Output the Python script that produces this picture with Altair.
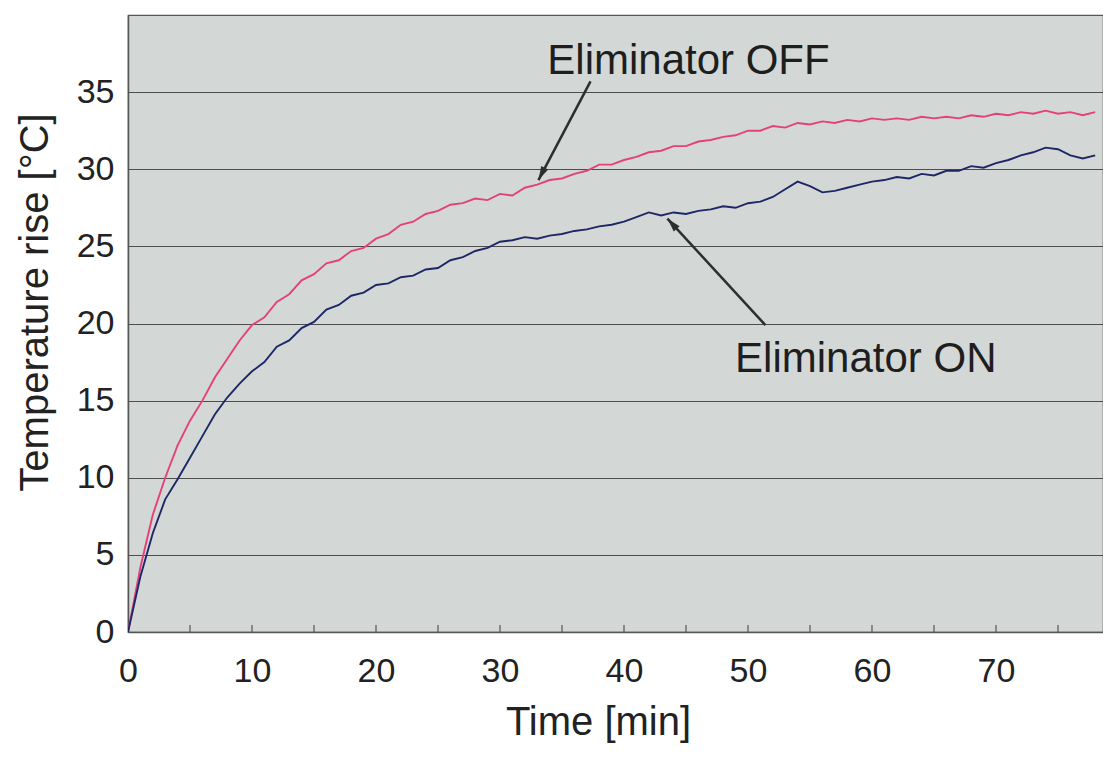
import altair as alt
import pandas as pd

# ---- data ----
time_min = list(range(0, 79))

temp_off = [0, 4.2, 7.6, 10.0, 12.1, 13.7, 15.0, 16.5, 17.7, 18.9,
            19.9, 20.4, 21.4, 21.9, 22.8, 23.2, 23.9, 24.1, 24.7, 24.9,
            25.5, 25.8, 26.4, 26.6, 27.1, 27.3, 27.7, 27.8, 28.1, 28.0,
            28.4, 28.3, 28.8, 29.0, 29.3, 29.4, 29.7, 29.9, 30.3, 30.3,
            30.6, 30.8, 31.1, 31.2, 31.5, 31.5, 31.8, 31.9, 32.1, 32.2,
            32.5, 32.5, 32.8, 32.7, 33.0, 32.9, 33.1, 33.0, 33.2, 33.1,
            33.3, 33.2, 33.3, 33.2, 33.4, 33.3, 33.4, 33.3, 33.5, 33.4,
            33.6, 33.5, 33.7, 33.6, 33.8, 33.6, 33.7, 33.5, 33.7]

temp_on = [0, 3.6, 6.4, 8.6, 9.9, 11.3, 12.7, 14.1, 15.2, 16.1,
           16.9, 17.5, 18.5, 18.9, 19.7, 20.1, 20.9, 21.2, 21.8, 22.0,
           22.5, 22.6, 23.0, 23.1, 23.5, 23.6, 24.1, 24.3, 24.7, 24.9,
           25.3, 25.4, 25.6, 25.5, 25.7, 25.8, 26.0, 26.1, 26.3, 26.4,
           26.6, 26.9, 27.2, 27.0, 27.2, 27.1, 27.3, 27.4, 27.6, 27.5,
           27.8, 27.9, 28.2, 28.7, 29.2, 28.9, 28.5, 28.6, 28.8, 29.0,
           29.2, 29.3, 29.5, 29.4, 29.7, 29.6, 29.9, 29.9, 30.2, 30.1,
           30.4, 30.6, 30.9, 31.1, 31.4, 31.3, 30.9, 30.7, 30.9]

x_tick_labels = [0, 10, 20, 30, 40, 50, 60, 70]
x_minor_ticks = [5, 10, 15, 20, 25, 30, 35, 40, 45, 50, 55, 60, 65, 70, 75]
y_ticks = [0, 5, 10, 15, 20, 25, 30, 35]

ann_labels = ["Eliminator OFF", "Eliminator ON"]
ann_text_x = [45.2, 59.5]
ann_text_y = [37.0, 17.7]
arrow_x1 = [37.3, 51.4]
arrow_y1 = [35.7, 19.9]
arrow_x2 = [33.1, 43.5]
arrow_y2 = [29.3, 26.8]
arrow_angle = [207, 318]

# ---- tables ----
df = pd.concat([
    pd.DataFrame({"t": time_min, "v": temp_off, "s": "Eliminator OFF"}),
    pd.DataFrame({"t": time_min, "v": temp_on, "s": "Eliminator ON"}),
])
ticks_df = pd.DataFrame({"t": x_minor_ticks, "y0": 0.0, "y1": 0.45})
ann_df = pd.DataFrame({"label": ann_labels, "tx": ann_text_x, "ty": ann_text_y,
                       "x1": arrow_x1, "y1": arrow_y1, "x2": arrow_x2,
                       "y2": arrow_y2, "ang": arrow_angle})

FONT = "Liberation Sans"
xscale = alt.Scale(domain=[0, 78.63], nice=False, zero=False)
yscale = alt.Scale(domain=[0, 40], nice=False)

xaxis = alt.Axis(values=x_tick_labels, title="Time [min]", grid=False, tickSize=0,
                 labelFlush=False, labelOverlap=False,
                 labelFontSize=34, labelPadding=22, labelColor="#222", labelFont=FONT,
                 titleFont=FONT, titleFontSize=40, titleFontWeight="normal", titleColor="#222",
                 titleX=470, titleY=90, titleBaseline="middle", titleAlign="center",
                 domainColor="#555", domainWidth=1.5)
yaxis = alt.Axis(values=y_ticks, title="Temperature rise [°C]", grid=True,
                 gridColor="#4d4d4d", gridWidth=1.2, tickSize=0,
                 labelFlush=False, labelOverlap=False,
                 labelFontSize=34, labelPadding=14, labelColor="#222", labelFont=FONT,
                 titleFont=FONT, titleFontSize=40, titleFontWeight="normal", titleColor="#222",
                 titleX=-93, titleY=287, titleBaseline="middle", titleAlign="center",
                 titleAngle=270, domainColor="#555", domainWidth=1.5)

lines = alt.Chart(df).mark_line(strokeWidth=1.9, clip=True).encode(
    x=alt.X("t:Q", scale=xscale, axis=xaxis),
    y=alt.Y("v:Q", scale=yscale, axis=yaxis),
    color=alt.Color("s:N", scale=alt.Scale(domain=["Eliminator OFF", "Eliminator ON"],
                                           range=["#e4407c", "#1d2766"]), legend=None),
)

minor = alt.Chart(ticks_df).mark_rule(color="#555", strokeWidth=1.2).encode(
    x=alt.X("t:Q", scale=xscale), y=alt.Y("y0:Q", scale=yscale), y2="y1:Q")

arrows = alt.Chart(ann_df).mark_rule(color="#2b2f2d", strokeWidth=2.5).encode(
    x=alt.X("x1:Q", scale=xscale), y=alt.Y("y1:Q", scale=yscale), x2="x2:Q", y2="y2:Q")

heads = alt.Chart(ann_df).mark_point(
    shape="M0,0 L0.45,1.6 L-0.45,1.6 Z", filled=True, opacity=1,
    color="#2b2f2d", size=300, strokeWidth=0).encode(
    x=alt.X("x2:Q", scale=xscale), y=alt.Y("y2:Q", scale=yscale),
    angle=alt.Angle("ang:Q", scale=None))

texts = alt.Chart(ann_df).mark_text(font=FONT, fontSize=42, color="#1e1e1e",
                                    align="center", baseline="middle").encode(
    x=alt.X("tx:Q", scale=xscale), y=alt.Y("ty:Q", scale=yscale), text="label:N")

chart = alt.layer(lines, minor, arrows, heads, texts).properties(
    width=975, height=617,
    autosize=alt.AutoSizeParams(type="none"),
    padding={"left": 128, "top": 15, "right": 0, "bottom": 125},
    background="white",
).configure_view(fill="#d3d8d6", stroke="#555", strokeWidth=1.2)

chart.save("out.html", embed_options={"renderer": "svg", "actions": False})
